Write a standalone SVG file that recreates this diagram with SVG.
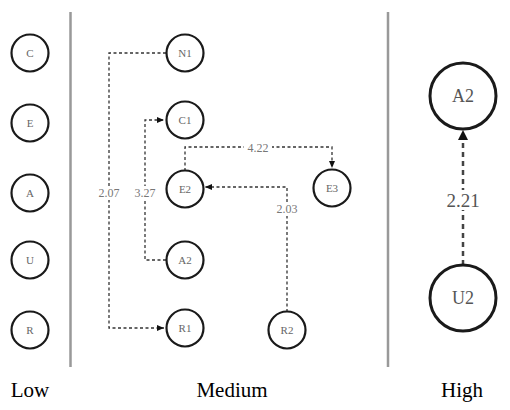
<svg xmlns="http://www.w3.org/2000/svg" width="510" height="410" viewBox="0 0 510 410">
<style>
.n{fill:#fff;stroke:#1a1a1a;stroke-width:2.2}
.nb{fill:#fff;stroke:#1a1a1a;stroke-width:3}
text{font-family:"Liberation Serif","Times New Roman",Times,"DejaVu Serif",serif}
.t{font-size:11px;fill:#666;text-anchor:middle;dominant-baseline:central}
.tb{font-size:18px;fill:#555;text-anchor:middle;dominant-baseline:central}
.e{fill:none;stroke:#333;stroke-width:1.3;stroke-dasharray:3,2.5}
.eb{fill:none;stroke:#444;stroke-width:2.5;stroke-dasharray:5,4}
.l{font-size:12px;fill:#777;text-anchor:middle;dominant-baseline:central}
.lb{font-size:19px;fill:#555;text-anchor:middle;dominant-baseline:central}
.bg{fill:#fff}
.h{font-size:21px;fill:#000;text-anchor:middle}
.d{stroke:#999;stroke-width:2.5}
</style>
<defs>
<marker id="a" markerWidth="8" markerHeight="8" refX="7" refY="4" orient="auto" markerUnits="userSpaceOnUse"><path d="M0,1 L7,4 L0,7 Z" fill="#111"/></marker>
<marker id="ab" markerWidth="12" markerHeight="12" refX="10" refY="6" orient="auto" markerUnits="userSpaceOnUse"><path d="M0,1 L10,6 L0,11 Z" fill="#111"/></marker>
</defs>
<rect width="510" height="410" fill="#fff"/>
<g id="dividers">
<line class="d" x1="70.5" y1="12" x2="70.5" y2="367"/>
<line class="d" x1="388" y1="12" x2="388" y2="367"/>
</g>
<g id="connectors">
<path class="e" d="M166,53 H109 V328 H164" marker-end="url(#a)"/>
<path class="e" d="M166,260 H145 V120 H164" marker-end="url(#a)"/>
<path class="e" d="M185,171 V147 H332 V168" marker-end="url(#a)"/>
<path class="e" d="M287,312 V187 H205" marker-end="url(#a)"/>
<path class="eb" d="M463,265 V130" marker-end="url(#ab)"/>
<rect class="bg" x="95" y="186" width="28" height="14"/>
<text class="l" x="109" y="193">2.07</text>
<rect class="bg" x="131" y="186" width="28" height="14"/>
<text class="l" x="145" y="193">3.27</text>
<rect class="bg" x="244" y="140" width="28" height="14"/>
<text class="l" x="258" y="148">4.22</text>
<rect class="bg" x="273" y="202" width="28" height="14"/>
<text class="l" x="287" y="209">2.03</text>
<rect class="bg" x="443" y="190" width="40" height="20"/>
<text class="lb" x="463" y="200">2.21</text>
</g>
<g id="node-C"><circle class="n" cx="30" cy="53" r="18.5"/><text class="t" x="30" y="53">C</text></g>
<g id="node-E"><circle class="n" cx="30" cy="123" r="18.5"/><text class="t" x="30" y="123">E</text></g>
<g id="node-A"><circle class="n" cx="30" cy="193" r="18.5"/><text class="t" x="30" y="193">A</text></g>
<g id="node-U"><circle class="n" cx="30" cy="260" r="18.5"/><text class="t" x="30" y="260">U</text></g>
<g id="node-R"><circle class="n" cx="30" cy="330" r="18.5"/><text class="t" x="30" y="330">R</text></g>
<g id="node-N1"><circle class="n" cx="185" cy="53" r="18.5"/><text class="t" x="185" y="53">N1</text></g>
<g id="node-C1"><circle class="n" cx="185" cy="120" r="18.5"/><text class="t" x="185" y="120">C1</text></g>
<g id="node-E2"><circle class="n" cx="185" cy="189" r="18.5"/><text class="t" x="185" y="189">E2</text></g>
<g id="node-A2m"><circle class="n" cx="185" cy="260" r="18.5"/><text class="t" x="185" y="260">A2</text></g>
<g id="node-R1"><circle class="n" cx="185" cy="328" r="18.5"/><text class="t" x="185" y="328">R1</text></g>
<g id="node-E3"><circle class="n" cx="332" cy="188" r="18.5"/><text class="t" x="332" y="188">E3</text></g>
<g id="node-R2"><circle class="n" cx="287" cy="330" r="18.5"/><text class="t" x="287" y="330">R2</text></g>
<g id="node-A2h"><circle class="nb" cx="463" cy="96" r="33"/><text class="tb" x="463" y="96">A2</text></g>
<g id="node-U2"><circle class="nb" cx="463" cy="298" r="33"/><text class="tb" x="463" y="298">U2</text></g>
<g id="levels">
<text class="h" x="30" y="397">Low</text>
<text class="h" x="232" y="397">Medium</text>
<text class="h" x="462" y="397">High</text>
</g>
</svg>
